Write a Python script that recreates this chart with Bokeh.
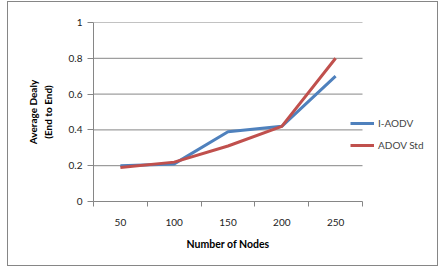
from bokeh.plotting import figure
from bokeh.models import (ColumnDataSource, FixedTicker, Legend, LegendItem, Range1d, Title)
from bokeh.embed import file_html
from bokeh.resources import INLINE

nodes = ["50", "100", "150", "200", "250"]
i_aodv = [0.20, 0.21, 0.39, 0.42, 0.70]
adov_std = [0.19, 0.22, 0.31, 0.42, 0.80]
y_ticks = [0, 0.2, 0.4, 0.6, 0.8, 1.0]

FONT = "Lato"
GRAY = "#868686"
BLUE = "#4F81BD"
RED = "#C0504D"

# layout constants (pixels)
W, H = 431, 265
LEFT, TOP, BOTTOM = 85, 20, 66
PLOT_W = 269                      # width of the category area
FRAME_W = W - LEFT
n = len(nodes)
x_end = 0.5 + FRAME_W * n / PLOT_W

xpos = list(range(1, n + 1))
src = ColumnDataSource(dict(x=xpos, a=i_aodv, b=adov_std))
grid_src = ColumnDataSource(dict(y=y_ticks[1:],
                                 x0=[0.5] * (len(y_ticks) - 1),
                                 x1=[n + 0.5] * (len(y_ticks) - 1)))

p = figure(width=W, height=H, output_backend="svg", toolbar_location=None,
           x_range=Range1d(0.5, x_end), y_range=Range1d(0, 1),
           margin=(1, 0, 0, 7),
           styles={"border": "1px solid #868686"})
p.min_border_left = LEFT
p.min_border_right = 0
p.min_border_top = TOP
p.min_border_bottom = BOTTOM
p.outline_line_color = None
p.background_fill_color = "white"
p.border_fill_color = "white"
p.xgrid.grid_line_color = None
p.ygrid.grid_line_color = None

p.segment(x0="x0", x1="x1", y0="y", y1="y", source=grid_src, color=GRAY, line_width=1)

r1 = p.line("x", "a", source=src, color=BLUE, line_width=3)
r2 = p.line("x", "b", source=src, color=RED, line_width=3)

# x axis
xa = p.xaxis[0]
xa.bounds = (0.5, n + 0.5)
xa.ticker = FixedTicker(ticks=xpos, minor_ticks=[i + 0.5 for i in range(0, n + 1)])
xa.major_label_overrides = {i: s for i, s in zip(xpos, nodes)}
xa.major_tick_out = 0
xa.major_tick_in = 0
xa.minor_tick_out = 5
xa.minor_tick_in = 0
xa.minor_tick_line_color = GRAY
xa.axis_line_color = GRAY
xa.major_label_standoff = 12
xa.major_label_text_font = FONT
xa.major_label_text_font_size = "10px"
xa.major_label_text_color = "#222222"

xt = Title(text="Number of Nodes", align="left", offset=93,
           text_font=FONT, text_font_style="bold", text_font_size="10.5px",
           text_color="black", standoff=14)
p.add_layout(xt, "below")

# y axis
ya = p.yaxis[0]
ya.ticker = FixedTicker(ticks=y_ticks)
ya.major_label_overrides = {0: "0", 1: "1"}
ya.major_tick_out = 6
ya.major_tick_in = 0
ya.minor_tick_line_color = None
ya.major_tick_line_color = GRAY
ya.axis_line_color = GRAY
ya.major_label_standoff = 5
ya.major_label_text_font = FONT
ya.major_label_text_font_size = "10px"
ya.major_label_text_color = "#222222"
ya.axis_label = "Average Dealy\n(End to End)"
ya.axis_label_text_font = FONT
ya.axis_label_text_font_style = "bold"
ya.axis_label_text_font_size = "10px"
ya.axis_label_standoff = 12
ya.axis_label_text_color = "black"

legend = Legend(items=[LegendItem(label="I-AODV", renderers=[r1]),
                       LegendItem(label="ADOV Std", renderers=[r2])],
                location=(257, 48), orientation="vertical")
legend.padding = 0
legend.margin = 0
legend.spacing = 6
legend.glyph_width = 24
legend.glyph_height = 16
legend.label_standoff = 4
legend.label_text_font = FONT
legend.label_text_font_size = "10px"
legend.label_height = 16
legend.border_line_color = None
legend.background_fill_alpha = 0
p.add_layout(legend, "center")

open("out.html", "w").write(file_html(p, INLINE))
